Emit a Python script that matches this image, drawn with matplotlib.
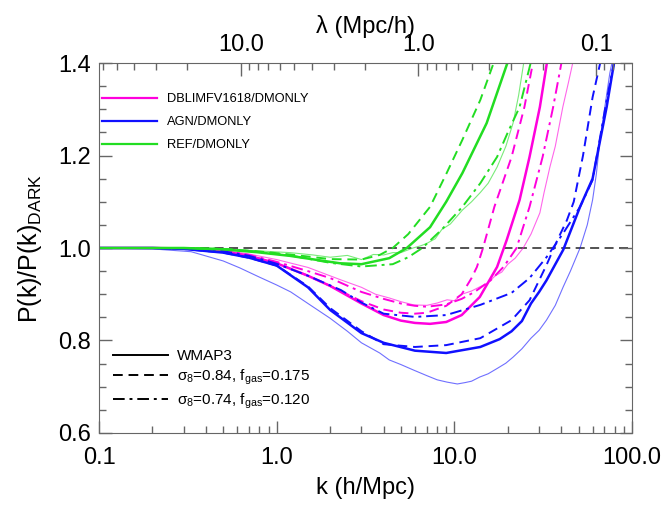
import numpy as np
import matplotlib
matplotlib.use("Agg")
import matplotlib.pyplot as plt
from matplotlib.ticker import FixedLocator, NullFormatter, FixedFormatter
from matplotlib.lines import Line2D

plt.rcParams['font.family'] = ['Liberation Sans', 'DejaVu Sans']
plt.rcParams['mathtext.fontset'] = 'custom'
plt.rcParams['mathtext.rm'] = 'Liberation Sans'
plt.rcParams['mathtext.it'] = 'Liberation Sans'
plt.rcParams['mathtext.sf'] = 'Liberation Sans'

# === cores por modelo ===
c_dbl = '#ff00dd'
c_agn = '#1010ff'
c_ref = '#22dd22'

# === AGN/DMONLY ===
agn_wmap_k = [0.1, 0.2, 0.3, 0.5, 0.7, 1.0, 1.5, 2.0, 3.0, 4.0, 6.0, 9.0, 14, 18, 21, 24, 27, 30, 33, 41, 51, 60, 72, 80]
agn_wmap_r = [1.0, 1.0, 0.998, 0.99, 0.979, 0.962, 0.915, 0.866, 0.816, 0.795, 0.778, 0.773, 0.786, 0.803, 0.82, 0.842, 0.88, 0.905, 0.93, 0.996, 1.089, 1.15, 1.305, 1.41]
agn_s84_k = [0.1, 0.2, 0.3, 0.5, 0.7, 1.0, 1.5, 2.0, 3.0, 4.0, 6.0, 9.0, 14, 21, 26.5, 33, 38, 43, 47, 53, 60, 68]
agn_s84_r = [1.0, 1.0, 0.998, 0.99, 0.979, 0.962, 0.917, 0.87, 0.82, 0.792, 0.786, 0.79, 0.805, 0.844, 0.887, 0.963, 1.017, 1.06, 1.1, 1.2, 1.326, 1.42]
agn_s74_k = [0.1, 0.2, 0.3, 0.5, 0.7, 1.0, 1.5, 2.3, 3.0, 4.0, 6.0, 9.0, 14, 21, 26.5, 33, 41, 51, 60, 72, 80]
agn_s74_r = [1.0, 1.0, 0.999, 0.993, 0.983, 0.966, 0.94, 0.909, 0.882, 0.858, 0.851, 0.855, 0.877, 0.903, 0.935, 0.98, 1.032, 1.089, 1.147, 1.32, 1.41]
agn_hr_k = [0.1, 0.2, 0.33, 0.5, 0.62, 0.8, 1.0, 1.2, 1.5, 2.0, 2.5, 3.0, 3.8, 4.3, 5.0, 5.9, 7.0, 8.0, 9.1, 10.4, 11.5, 12.5, 13.9, 15.5, 17.5, 19.5, 21.4, 24, 27, 30, 33, 37, 41, 45, 51, 56, 60, 63, 66, 70, 75, 79]
agn_hr_r = [1.0, 0.998, 0.992, 0.972, 0.957, 0.937, 0.92, 0.905, 0.88, 0.848, 0.82, 0.795, 0.773, 0.758, 0.748, 0.736, 0.724, 0.715, 0.71, 0.706, 0.709, 0.712, 0.721, 0.728, 0.74, 0.751, 0.764, 0.782, 0.805, 0.822, 0.844, 0.876, 0.916, 0.95, 1.0, 1.05, 1.104, 1.16, 1.233, 1.3, 1.378, 1.42]

# === DBLIMFV1618/DMONLY ===
dbl_wmap_k = [0.1, 0.2, 0.3, 0.5, 0.7, 1.0, 1.5, 2.0, 3.0, 4.0, 5.0, 6.0, 7.3, 9.0, 11, 13.9, 17.4, 19.7, 23.3, 26.5, 30.3, 33.5]
dbl_wmap_r = [1.0, 1.0, 0.999, 0.993, 0.983, 0.967, 0.94, 0.918, 0.88, 0.855, 0.843, 0.838, 0.836, 0.84, 0.855, 0.894, 0.959, 1.017, 1.104, 1.197, 1.305, 1.41]
dbl_s84_k = [0.1, 0.2, 0.3, 0.5, 0.7, 1.0, 1.5, 2.0, 3.0, 4.0, 5.0, 6.0, 7.0, 9.0, 11, 12.5, 13.4, 14.5, 16.8, 21, 24.8, 28]
dbl_s84_r = [1.0, 1.0, 0.999, 0.993, 0.983, 0.967, 0.94, 0.918, 0.885, 0.867, 0.86, 0.858, 0.86, 0.875, 0.9, 0.935, 0.959, 1.0, 1.089, 1.197, 1.305, 1.41]
dbl_s74_k = [0.1, 0.2, 0.3, 0.5, 0.7, 1.0, 1.5, 2.0, 3.0, 4.0, 5.0, 6.0, 7.0, 9.0, 11, 13, 16, 19, 22.4, 26.5, 31.4, 36, 40.5]
dbl_s74_r = [1.0, 1.0, 0.999, 0.994, 0.985, 0.97, 0.95, 0.935, 0.905, 0.89, 0.88, 0.875, 0.873, 0.878, 0.89, 0.905, 0.93, 0.96, 1.0, 1.089, 1.197, 1.305, 1.41]
dbl_hr_k = [0.1, 0.2, 0.3, 0.5, 0.7, 1.0, 1.5, 2.3, 3.0, 3.6, 4.3, 5.0, 5.9, 7.0, 8.0, 9.1, 10, 11, 12.5, 13.9, 15.5, 17, 18.5, 20, 22, 24.4, 27, 30.3, 32, 34.5, 37, 40.8, 44, 47]
dbl_hr_r = [1.0, 1.0, 0.999, 0.995, 0.987, 0.975, 0.958, 0.931, 0.915, 0.9, 0.892, 0.884, 0.877, 0.876, 0.881, 0.888, 0.886, 0.9, 0.907, 0.916, 0.925, 0.94, 0.948, 0.965, 0.978, 1.0, 1.03, 1.076, 1.12, 1.175, 1.22, 1.305, 1.36, 1.41]

# === REF/DMONLY ===
ref_wmap_k = [0.1, 0.2, 0.3, 0.5, 0.77, 1.19, 1.7, 2.27, 3.0, 4.3, 5.4, 7.3, 9.0, 11.1, 15.2, 20.3]
ref_wmap_r = [1.0, 1.0, 1.0, 0.997, 0.991, 0.983, 0.974, 0.967, 0.965, 0.978, 1.0, 1.045, 1.1, 1.162, 1.27, 1.41]
ref_s84_k = [0.1, 0.2, 0.3, 0.5, 0.77, 1.19, 2.0, 3.0, 3.8, 4.5, 5.5, 7.3, 9.0, 11.1, 14, 17]
ref_s84_r = [1.0, 1.0, 1.0, 0.998, 0.993, 0.986, 0.976, 0.975, 0.985, 1.0, 1.03, 1.089, 1.16, 1.234, 1.32, 1.41]
ref_s74_k = [0.1, 0.2, 0.3, 0.5, 0.77, 1.19, 2.0, 3.0, 4.5, 5.5, 6.6, 8.5, 11.1, 14, 17.4, 20, 23.3, 27.3]
ref_s74_r = [1.0, 1.0, 1.0, 0.998, 0.992, 0.984, 0.968, 0.96, 0.965, 0.98, 1.0, 1.04, 1.089, 1.14, 1.197, 1.25, 1.305, 1.41]
ref_hr_k = [0.1, 0.2, 0.3, 0.5, 0.77, 1.19, 1.6, 2.0, 2.5, 3.0, 3.5, 4.0, 4.5, 5.0, 5.85, 6.5, 7.0, 7.8, 8.5, 9.5, 11.1, 12.5, 14, 15.5, 17.4, 19.5, 21.4, 23, 24.8]
ref_hr_r = [1.0, 1.0, 1.0, 0.998, 0.994, 0.99, 0.985, 0.98, 0.984, 0.975, 0.986, 0.985, 0.99, 0.99, 1.0, 1.005, 1.01, 1.02, 1.04, 1.052, 1.082, 1.1, 1.12, 1.14, 1.175, 1.22, 1.27, 1.33, 1.41]

legend_modelos = ['DBLIMFV1618/DMONLY', 'AGN/DMONLY', 'REF/DMONLY']
legend_cosmo = ['WMAP3', r'$\sigma_8$=0.84, f$_{\rm gas}$=0.175', r'$\sigma_8$=0.74, f$_{\rm gas}$=0.120']

xticks_k = [0.1, 1.0, 10.0, 100.0]
xticks_k_lab = ['0.1', '1.0', '10.0', '100.0']
xticks_lam = [10.0, 1.0, 0.1]
xticks_lam_lab = ['10.0', '1.0', '0.1']
yticks = [0.6, 0.8, 1.0, 1.2, 1.4]
yticks_lab = ['0.6', '0.8', '1.0', '1.2', '1.4']

# === estilos ===
ls_dash = (0, (5, 3))
ls_dashdot = (0, (6, 2.5, 1.5, 2.5))

fig = plt.figure(figsize=(6.69, 5.05), dpi=100)
ax = fig.add_axes([0.148, 0.1426, 0.7967, 0.7326])

ax.axhline(1.0, color='#444444', lw=1.3, ls=(0, (5, 3)), zorder=1)

modelos = [
    (c_dbl, dbl_wmap_k, dbl_wmap_r, dbl_s84_k, dbl_s84_r, dbl_s74_k, dbl_s74_r, dbl_hr_k, dbl_hr_r),
    (c_agn, agn_wmap_k, agn_wmap_r, agn_s84_k, agn_s84_r, agn_s74_k, agn_s74_r, agn_hr_k, agn_hr_r),
    (c_ref, ref_wmap_k, ref_wmap_r, ref_s84_k, ref_s84_r, ref_s74_k, ref_s74_r, ref_hr_k, ref_hr_r),
]
for cor, kw, rw, k84, r84, k74, r74, khr, rhr in modelos:
    ax.plot(khr, rhr, color=cor, lw=0.8, alpha=0.6)
    ax.plot(k74, r74, color=cor, lw=1.4, ls=ls_dashdot)
    ax.plot(k84, r84, color=cor, lw=1.4, ls=ls_dash)
    ax.plot(kw, rw, color=cor, lw=1.8)

ax.set_xscale('log')
ax.set_xlim(0.1, 100.0)
ax.set_ylim(0.6, 1.4)

ax.xaxis.set_major_locator(FixedLocator(xticks_k))
ax.xaxis.set_major_formatter(FixedFormatter(xticks_k_lab))
ax.xaxis.set_minor_locator(FixedLocator([m * d for d in [0.1, 1, 10] for m in range(2, 10)]))
ax.xaxis.set_minor_formatter(NullFormatter())
ax.yaxis.set_major_locator(FixedLocator(yticks))
ax.yaxis.set_major_formatter(FixedFormatter(yticks_lab))
ax.yaxis.set_minor_locator(FixedLocator(np.arange(0.6, 1.401, 0.05)))

ax.tick_params(which='both', direction='in', top=False, right=True, color='#666666', labelsize=17)
ax.tick_params(which='major', length=9, width=1)
ax.tick_params(which='minor', length=5, width=1)
ax.tick_params(axis='x', pad=10)
ax.tick_params(axis='y', pad=6)
for sp in ax.spines.values():
    sp.set_color('#666666')

ax.set_xlabel('k (h/Mpc)', fontsize=17, labelpad=6)
ax.set_ylabel(r'P(k)/P(k)$_{\rm DARK}$', fontsize=18, labelpad=10)

# === eixo superior em lambda = 2pi/k ===
ax2 = ax.twiny()
ax2.set_xscale('log')
ax2.set_xlim(2 * np.pi / 0.1, 2 * np.pi / 100.0)
ax2.xaxis.set_major_locator(FixedLocator(xticks_lam))
ax2.xaxis.set_major_formatter(FixedFormatter(xticks_lam_lab))
ax2.xaxis.set_minor_locator(FixedLocator([m * d for d in [0.01, 0.1, 1, 10] for m in range(2, 10)]))
ax2.xaxis.set_minor_formatter(NullFormatter())
ax2.tick_params(which='both', direction='in', color='#666666', labelsize=17, pad=5)
ax2.tick_params(which='major', length=9, width=1)
ax2.tick_params(which='minor', length=5, width=1)
for sp in ax2.spines.values():
    sp.set_visible(False)
ax2.set_xlabel('λ (Mpc/h)', fontsize=17, labelpad=1)

# === legendas ===
h1 = [Line2D([], [], color=c, lw=1.6) for c in [c_dbl, c_agn, c_ref]]
leg1 = ax.legend(h1, legend_modelos, loc='upper left', bbox_to_anchor=(0.006, 0.918),
                 frameon=False, fontsize=9.3, handlelength=4.25, handletextpad=0.78,
                 labelspacing=0.85, borderpad=0, borderaxespad=0)
ax.add_artist(leg1)
h2 = [Line2D([], [], color='black', lw=1.4, ls=s) for s in ['-', ls_dash, ls_dashdot]]
ax.legend(h2, legend_cosmo, loc='lower left', bbox_to_anchor=(0.026, 0.06),
          frameon=False, fontsize=11, handlelength=3.6, handletextpad=0.6,
          labelspacing=0.3, borderpad=0, borderaxespad=0)

fig.savefig('out.png', dpi=100)
